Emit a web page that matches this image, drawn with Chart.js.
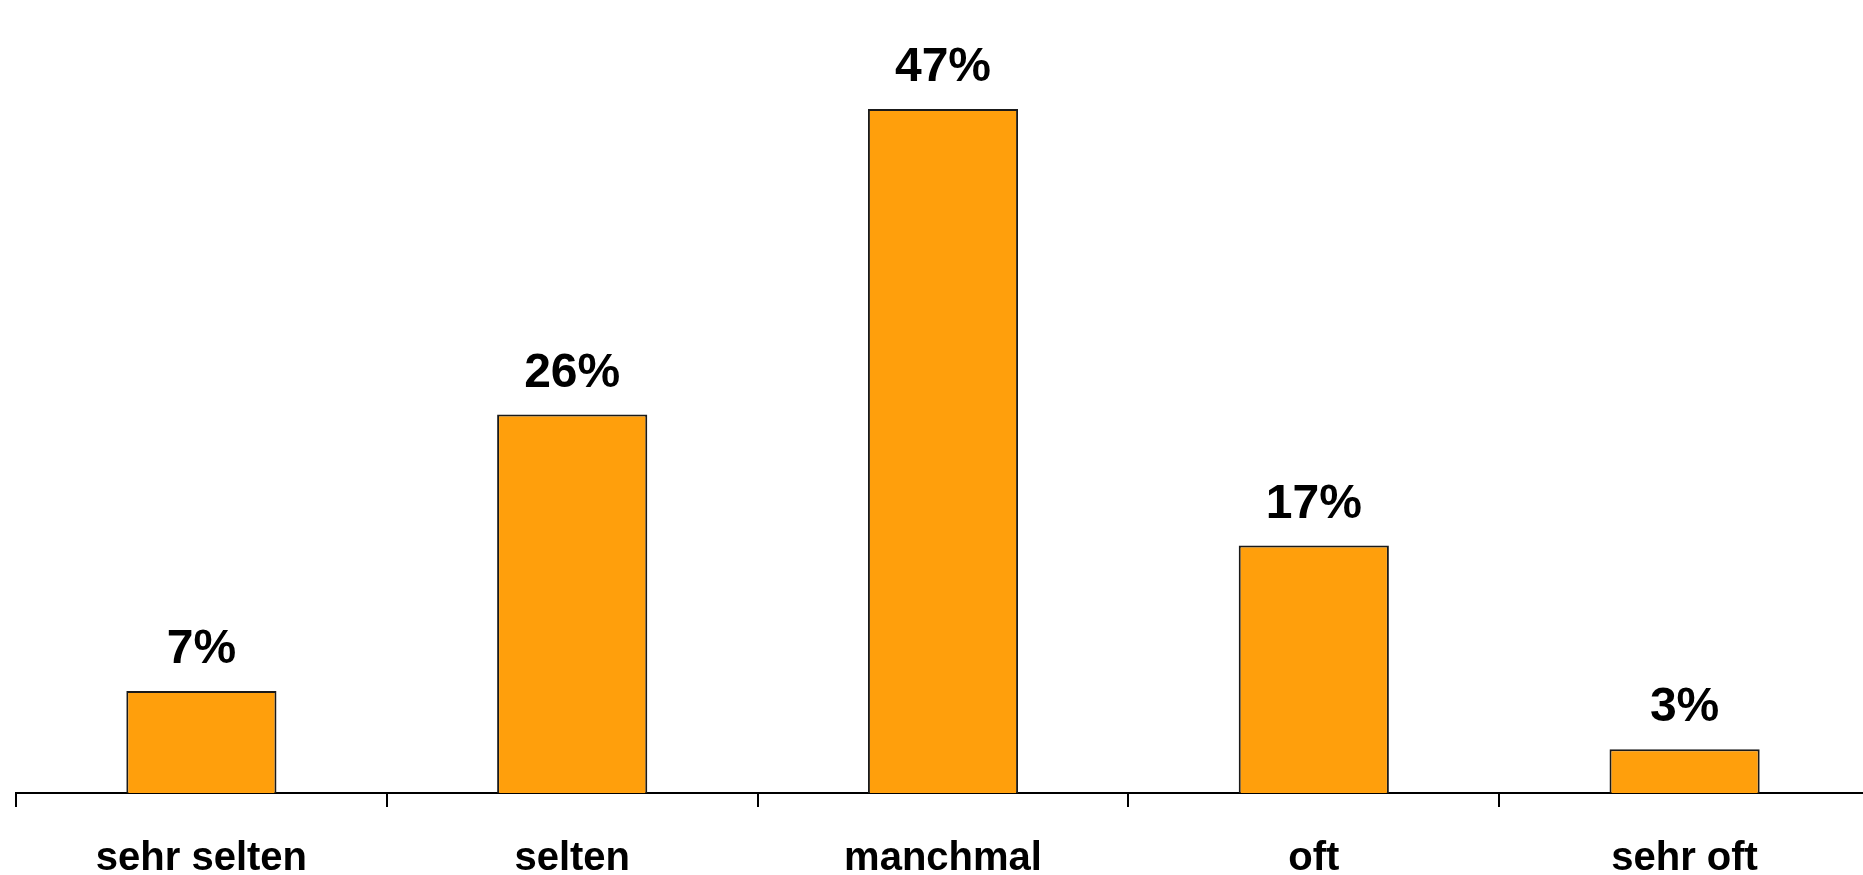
<!DOCTYPE html>
<html>
<head>
<meta charset="utf-8">
<script src="https://cdn.jsdelivr.net/npm/chart.js@4/dist/chart.umd.min.js"></script>
<style>
  html, body { margin: 0; padding: 0; background: #fff; overflow: hidden; }
  #wrap { width: 1870px; height: 875px; position: relative; }
</style>
</head>
<body>
<div id="wrap"><canvas id="grafico"></canvas></div>
<script>
const kategorien = ['sehr selten', 'selten', 'manchmal', 'oft', 'sehr oft'];
const anteile = [7, 26, 47, 17, 3];

const fontFamilie = '"Liberation Sans", Arial, sans-serif';

// Prozentwerte über den Balken
const wertLabels = {
    id: 'wertLabels',
    afterDatasetsDraw(chart) {
        const ctx = chart.ctx;
        const meta = chart.getDatasetMeta(0);
        ctx.save();
        ctx.font = 'bold 48px ' + fontFamilie;
        ctx.fillStyle = '#000';
        ctx.textAlign = 'center';
        ctx.textBaseline = 'alphabetic';
        meta.data.forEach((bar, i) => {
            ctx.fillText(anteile[i] + '%', bar.x, bar.y - 28);
        });
        ctx.restore();
    }
};

new Chart(document.getElementById('grafico'), {
    type: 'bar',
    data: {
        labels: kategorien,
        datasets: [{
            data: anteile,
            backgroundColor: '#FF9F0C',
            borderColor: '#1a1a1a',
            borderWidth: 2,
            barPercentage: 0.405,
            categoryPercentage: 1
        }]
    },
    options: {
        responsive: true,
        maintainAspectRatio: false,
        animation: false,
        layout: { padding: { top: 7, left: 16, right: 0, bottom: 0 } },
        plugins: {
            legend: { display: false },
            tooltip: { enabled: false }
        },
        scales: {
            x: {
                grid: {
                    offset: true,
                    drawOnChartArea: false,
                    drawTicks: true,
                    tickLength: 14,
                    color: '#000',
                    lineWidth: 2
                },
                border: { color: '#000', width: 2 },
                ticks: {
                    color: '#000',
                    padding: 28,
                    font: { family: fontFamilie, size: 40, weight: 'bold' }
                },
                afterFit(scale) { scale.height = 82; }
            },
            y: {
                display: false,
                min: 0,
                max: 54
            }
        }
    },
    plugins: [wertLabels]
});
</script>
</body>
</html>
